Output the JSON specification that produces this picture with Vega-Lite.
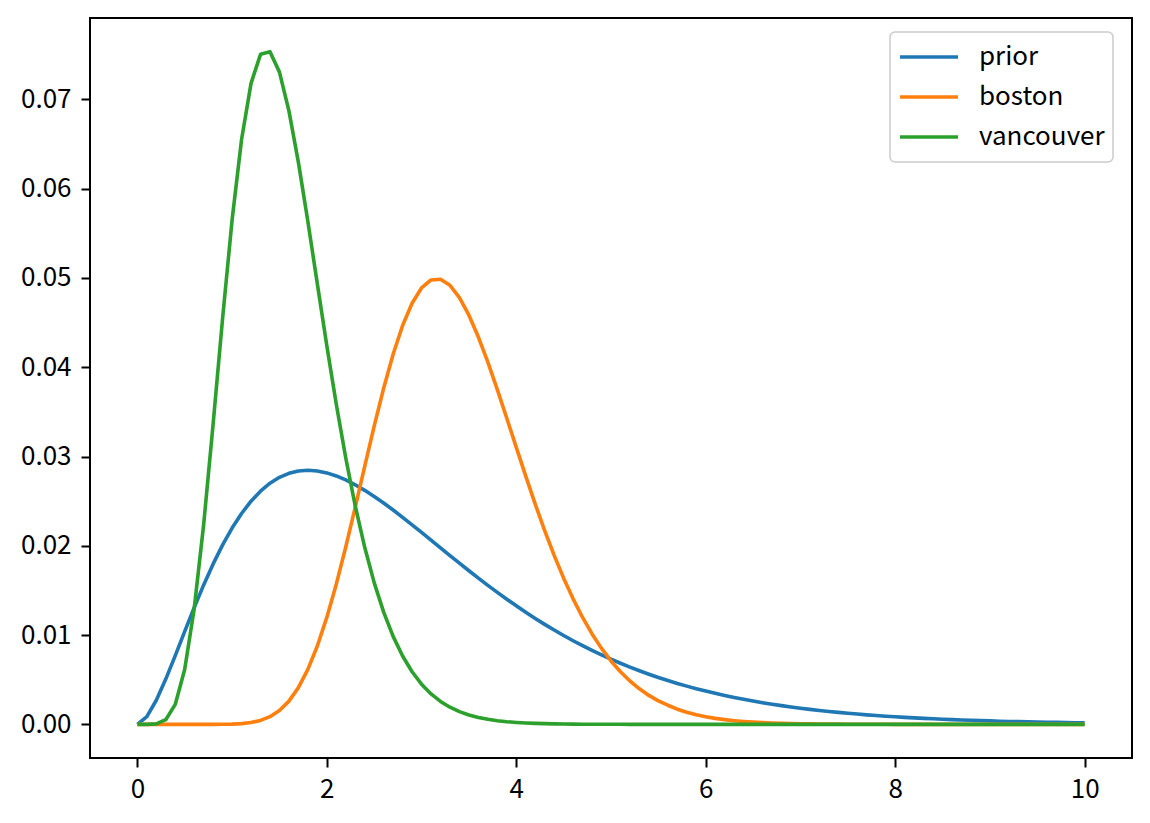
{
  "$schema": "https://vega.github.io/schema/vega-lite/v6.json",
  "autosize": {"type": "none"},
  "padding": {"left": 90, "top": 18, "right": 18, "bottom": 65},
  "width": 1042,
  "height": 740,
  "background": "white",
  "config": {
    "view": {"stroke": "black", "strokeWidth": 2},
    "font": "Noto Sans CJK KR",
    "axis": {
      "domain": false,
      "grid": false,
      "ticks": true,
      "tickColor": "black",
      "tickWidth": 2,
      "tickSize": 9,
      "labelFont": "Noto Sans CJK KR",
      "labelFontSize": 26,
      "labelColor": "black",
      "title": null
    },
    "legend": {
      "labelFont": "Noto Sans CJK KR",
      "labelFontSize": 26,
      "labelColor": "black",
      "strokeWidth": 1.5
    }
  },
  "data": {
    "values": [
      {"x": 0, "prior": 0, "boston": 0, "vancouver": 0},
      {"x": 0.1, "prior": 0.000857, "boston": 0, "vancouver": 0.0000008},
      {"x": 0.2, "prior": 0.002701, "boston": 0, "vancouver": 0.0000545},
      {"x": 0.3, "prior": 0.005070, "boston": 0, "vancouver": 0.000521},
      {"x": 0.4, "prior": 0.007699, "boston": 0, "vancouver": 0.002233},
      {"x": 0.5, "prior": 0.010410, "boston": 0, "vancouver": 0.006176},
      {"x": 0.6, "prior": 0.013079, "boston": 0, "vancouver": 0.012941},
      {"x": 0.7, "prior": 0.015618, "boston": 0.0000001, "vancouver": 0.022391},
      {"x": 0.8, "prior": 0.017972, "boston": 0.0000025, "vancouver": 0.033672},
      {"x": 0.9, "prior": 0.020102, "boston": 0.0000097, "vancouver": 0.045495},
      {"x": 1.0, "prior": 0.021987, "boston": 0.0000312, "vancouver": 0.056490},
      {"x": 1.1, "prior": 0.023618, "boston": 0.0000852, "vancouver": 0.065508},
      {"x": 1.2, "prior": 0.024994, "boston": 0.000204, "vancouver": 0.071799},
      {"x": 1.3, "prior": 0.026120, "boston": 0.000439, "vancouver": 0.075049},
      {"x": 1.4, "prior": 0.027007, "boston": 0.000859, "vancouver": 0.075344},
      {"x": 1.5, "prior": 0.027669, "boston": 0.001549, "vancouver": 0.073056},
      {"x": 1.6, "prior": 0.028120, "boston": 0.002605, "vancouver": 0.068723},
      {"x": 1.7, "prior": 0.028378, "boston": 0.004118, "vancouver": 0.062949},
      {"x": 1.8, "prior": 0.028459, "boston": 0.006162, "vancouver": 0.056318},
      {"x": 1.9, "prior": 0.028383, "boston": 0.008781, "vancouver": 0.049337},
      {"x": 2.0, "prior": 0.028166, "boston": 0.011978, "vancouver": 0.042413},
      {"x": 2.1, "prior": 0.027825, "boston": 0.015705, "vancouver": 0.035846},
      {"x": 2.2, "prior": 0.027376, "boston": 0.019865, "vancouver": 0.029831},
      {"x": 2.3, "prior": 0.026835, "boston": 0.024320, "vancouver": 0.024480},
      {"x": 2.4, "prior": 0.026214, "boston": 0.028898, "vancouver": 0.019831},
      {"x": 2.5, "prior": 0.025528, "boston": 0.033407, "vancouver": 0.015876},
      {"x": 2.6, "prior": 0.024789, "boston": 0.037653, "vancouver": 0.012573},
      {"x": 2.7, "prior": 0.024006, "boston": 0.041461, "vancouver": 0.009857},
      {"x": 2.8, "prior": 0.023191, "boston": 0.044671, "vancouver": 0.007656},
      {"x": 2.9, "prior": 0.022353, "boston": 0.047172, "vancouver": 0.005895},
      {"x": 3.0, "prior": 0.021498, "boston": 0.048883, "vancouver": 0.004502},
      {"x": 3.1, "prior": 0.020635, "boston": 0.049775, "vancouver": 0.003413},
      {"x": 3.2, "prior": 0.019769, "boston": 0.049856, "vancouver": 0.002569},
      {"x": 3.3, "prior": 0.018907, "boston": 0.049172, "vancouver": 0.001921},
      {"x": 3.4, "prior": 0.018052, "boston": 0.047799, "vancouver": 0.001427},
      {"x": 3.5, "prior": 0.017209, "boston": 0.045833, "vancouver": 0.001054},
      {"x": 3.6, "prior": 0.016381, "boston": 0.043385, "vancouver": 0.000774},
      {"x": 3.7, "prior": 0.015572, "boston": 0.040570, "vancouver": 0.000566},
      {"x": 3.8, "prior": 0.014783, "boston": 0.037501, "vancouver": 0.000412},
      {"x": 3.9, "prior": 0.014016, "boston": 0.034288, "vancouver": 0.000298},
      {"x": 4.0, "prior": 0.013274, "boston": 0.031025, "vancouver": 0.000215},
      {"x": 4.1, "prior": 0.012557, "boston": 0.027798, "vancouver": 0.000154},
      {"x": 4.2, "prior": 0.011865, "boston": 0.024673, "vancouver": 0.000110},
      {"x": 4.3, "prior": 0.011201, "boston": 0.021704, "vancouver": 0.0000783},
      {"x": 4.4, "prior": 0.010563, "boston": 0.018929, "vancouver": 0.0000555},
      {"x": 4.5, "prior": 0.009952, "boston": 0.016375, "vancouver": 0.0000392},
      {"x": 4.6, "prior": 0.009369, "boston": 0.014056, "vancouver": 0.0000276},
      {"x": 4.7, "prior": 0.008811, "boston": 0.011975, "vancouver": 0.0000194},
      {"x": 4.8, "prior": 0.008281, "boston": 0.010130, "vancouver": 0.0000136},
      {"x": 4.9, "prior": 0.007777, "boston": 0.008510, "vancouver": 0.0000094},
      {"x": 5.0, "prior": 0.007297, "boston": 0.007103, "vancouver": 0.0000066},
      {"x": 5.1, "prior": 0.006842, "boston": 0.005891, "vancouver": 0.0000046},
      {"x": 5.2, "prior": 0.006411, "boston": 0.004856, "vancouver": 0.0000032},
      {"x": 5.3, "prior": 0.006003, "boston": 0.003979, "vancouver": 0.0000022},
      {"x": 5.4, "prior": 0.005618, "boston": 0.003243, "vancouver": 0.0000015},
      {"x": 5.5, "prior": 0.005254, "boston": 0.002628, "vancouver": 0.0000010},
      {"x": 5.6, "prior": 0.004911, "boston": 0.002144, "vancouver": 0.0000007},
      {"x": 5.7, "prior": 0.004587, "boston": 0.001700, "vancouver": 0.0000005},
      {"x": 5.8, "prior": 0.004283, "boston": 0.001357, "vancouver": 0.0000003},
      {"x": 5.9, "prior": 0.003996, "boston": 0.001079, "vancouver": 0.0000002},
      {"x": 6.0, "prior": 0.003727, "boston": 0.000853, "vancouver": 0.0000001},
      {"x": 6.1, "prior": 0.003474, "boston": 0.000672, "vancouver": 0},
      {"x": 6.2, "prior": 0.003237, "boston": 0.000527, "vancouver": 0},
      {"x": 6.3, "prior": 0.003015, "boston": 0.000412, "vancouver": 0},
      {"x": 6.4, "prior": 0.002806, "boston": 0.000320, "vancouver": 0},
      {"x": 6.5, "prior": 0.002611, "boston": 0.000248, "vancouver": 0},
      {"x": 6.6, "prior": 0.002428, "boston": 0.000191, "vancouver": 0},
      {"x": 6.7, "prior": 0.002257, "boston": 0.000147, "vancouver": 0},
      {"x": 6.8, "prior": 0.002098, "boston": 0.000113, "vancouver": 0},
      {"x": 6.9, "prior": 0.001949, "boston": 0.0000862, "vancouver": 0},
      {"x": 7.0, "prior": 0.001810, "boston": 0.0000657, "vancouver": 0},
      {"x": 7.1, "prior": 0.001680, "boston": 0.0000498, "vancouver": 0},
      {"x": 7.2, "prior": 0.001559, "boston": 0.0000377, "vancouver": 0},
      {"x": 7.3, "prior": 0.001446, "boston": 0.0000284, "vancouver": 0},
      {"x": 7.4, "prior": 0.001341, "boston": 0.0000214, "vancouver": 0},
      {"x": 7.5, "prior": 0.001243, "boston": 0.0000160, "vancouver": 0},
      {"x": 7.6, "prior": 0.001152, "boston": 0.0000120, "vancouver": 0},
      {"x": 7.7, "prior": 0.001067, "boston": 0.0000089, "vancouver": 0},
      {"x": 7.8, "prior": 0.000988, "boston": 0.0000066, "vancouver": 0},
      {"x": 7.9, "prior": 0.000915, "boston": 0.0000049, "vancouver": 0},
      {"x": 8.0, "prior": 0.000847, "boston": 0.0000036, "vancouver": 0},
      {"x": 8.1, "prior": 0.000783, "boston": 0.0000027, "vancouver": 0},
      {"x": 8.2, "prior": 0.000725, "boston": 0.0000020, "vancouver": 0},
      {"x": 8.3, "prior": 0.000670, "boston": 0.0000014, "vancouver": 0},
      {"x": 8.4, "prior": 0.000620, "boston": 0.0000010, "vancouver": 0},
      {"x": 8.5, "prior": 0.000573, "boston": 0.0000007, "vancouver": 0},
      {"x": 8.6, "prior": 0.000529, "boston": 0.0000005, "vancouver": 0},
      {"x": 8.7, "prior": 0.000489, "boston": 0.0000004, "vancouver": 0},
      {"x": 8.8, "prior": 0.000452, "boston": 0.0000003, "vancouver": 0},
      {"x": 8.9, "prior": 0.000417, "boston": 0.0000002, "vancouver": 0},
      {"x": 9.0, "prior": 0.000385, "boston": 0.0000001, "vancouver": 0},
      {"x": 9.1, "prior": 0.000355, "boston": 0.0000001, "vancouver": 0},
      {"x": 9.2, "prior": 0.000328, "boston": 0, "vancouver": 0},
      {"x": 9.3, "prior": 0.000303, "boston": 0, "vancouver": 0},
      {"x": 9.4, "prior": 0.000279, "boston": 0, "vancouver": 0},
      {"x": 9.5, "prior": 0.000257, "boston": 0, "vancouver": 0},
      {"x": 9.6, "prior": 0.000237, "boston": 0, "vancouver": 0},
      {"x": 9.7, "prior": 0.000219, "boston": 0, "vancouver": 0},
      {"x": 9.8, "prior": 0.000202, "boston": 0, "vancouver": 0},
      {"x": 9.9, "prior": 0.000186, "boston": 0, "vancouver": 0},
      {"x": 10.0, "prior": 0.000171, "boston": 0, "vancouver": 0}
    ]
  },
  "transform": [
    {"fold": ["prior", "boston", "vancouver"], "as": ["series", "p"]}
  ],
  "mark": {"type": "line", "strokeWidth": 3.6, "strokeJoin": "round", "strokeCap": "butt"},
  "encoding": {
    "x": {
      "field": "x",
      "type": "quantitative",
      "scale": {"domain": [-0.5, 10.5], "nice": false, "zero": false},
      "axis": {"values": [0, 2, 4, 6, 8, 10], "format": "d", "labelPadding": 9}
    },
    "y": {
      "field": "p",
      "type": "quantitative",
      "scale": {"domain": [-0.003768, 0.079118], "nice": false, "zero": false},
      "axis": {"values": [0, 0.01, 0.02, 0.03, 0.04, 0.05, 0.06, 0.07], "format": ".2f", "labelPadding": 10}
    },
    "color": {
      "field": "series",
      "type": "nominal",
      "scale": {"domain": ["prior", "boston", "vancouver"], "range": ["#1f77b4", "#ff7f0e", "#2ca02c"]},
      "legend": {
        "title": null,
        "orient": "none",
        "legendX": 800,
        "legendY": 14,
        "symbolType": "stroke",
        "symbolSize": 3364,
        "symbolStrokeWidth": 3.6,
        "clipHeight": 34,
        "rowPadding": 6,
        "padding": 8,
        "labelOffset": 19,
        "strokeColor": "#cccccc",
        "fillColor": "white",
        "cornerRadius": 5
      }
    }
  }
}
